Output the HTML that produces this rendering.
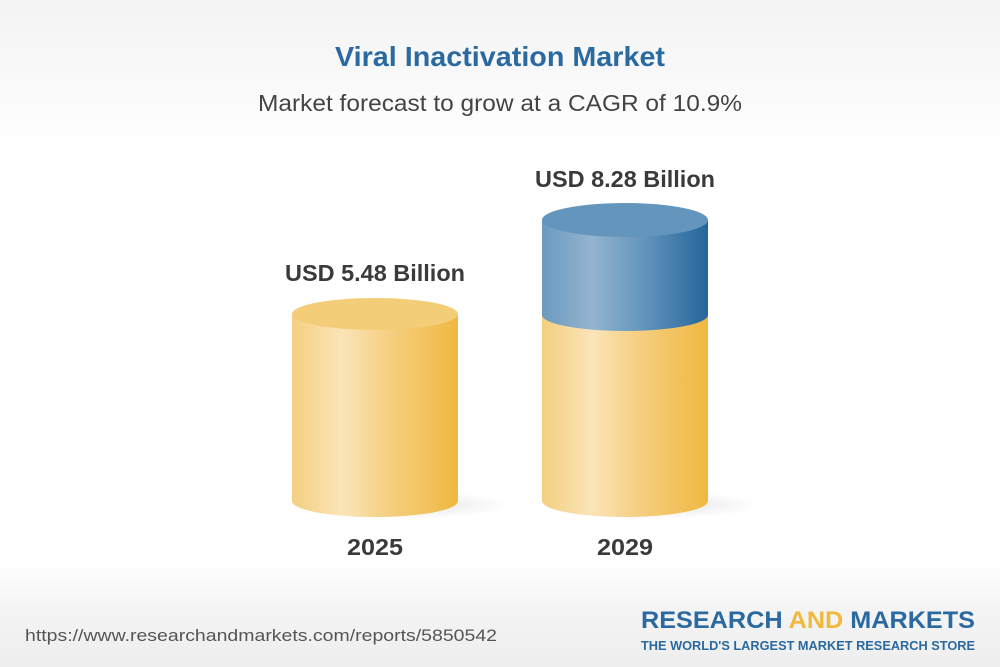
<!DOCTYPE html>
<html><head><meta charset="utf-8"><style>
html,body{margin:0;padding:0}
body{width:1000px;height:667px;position:relative;overflow:hidden;font-family:"Liberation Sans",Arial,sans-serif;background:linear-gradient(#f3f3f3 0px,#fff 150px,#fff 560px,#f4f4f4 610px,#eeeeee 667px)}
</style></head><body>
<svg width="1000" height="667" style="position:absolute;left:0;top:0" font-family="Liberation Sans">
<defs>
<linearGradient id="y" x1="0" x2="1"><stop offset="0" stop-color="#f3cf80"/><stop offset="0.3" stop-color="#fae4b8"/><stop offset="0.6" stop-color="#f5ce7e"/><stop offset="1" stop-color="#efb840"/></linearGradient>
<linearGradient id="b" x1="0" x2="1"><stop offset="0" stop-color="#6b9abf"/><stop offset="0.3" stop-color="#93b4cf"/><stop offset="0.6" stop-color="#6596bd"/><stop offset="1" stop-color="#25669c"/></linearGradient>
<radialGradient id="sh"><stop offset="0" stop-color="#000" stop-opacity="0.12"/><stop offset="1" stop-color="#000" stop-opacity="0"/></radialGradient>
</defs>
<text x="335" y="66" font-size="28" font-weight="bold" fill="#2a6aa0" textLength="330" lengthAdjust="spacingAndGlyphs">Viral Inactivation Market</text>
<text x="258" y="111" font-size="23" fill="#444" textLength="484" lengthAdjust="spacingAndGlyphs">Market forecast to grow at a CAGR of 10.9%</text>
<ellipse cx="400" cy="505" rx="110" ry="14" fill="url(#sh)"/>
<ellipse cx="650" cy="505" rx="110" ry="14" fill="url(#sh)"/>
<path d="M292 314 V501 A83 16 0 0 0 458 501 V314 Z" fill="url(#y)"/>
<ellipse cx="375" cy="314" rx="83" ry="16" fill="#f4cd78"/>
<path d="M542 315 V501 A83 16 0 0 0 708 501 V315 Z" fill="url(#y)"/>
<path d="M542 220 V315 A83 16 0 0 0 708 315 V220 Z" fill="url(#b)"/>
<ellipse cx="625" cy="220" rx="83" ry="17" fill="#6496bd"/>
<text x="285" y="281" font-size="23" font-weight="bold" fill="#3a3a3a" textLength="180" lengthAdjust="spacingAndGlyphs">USD 5.48 Billion</text>
<text x="535" y="187" font-size="23" font-weight="bold" fill="#3a3a3a" textLength="180" lengthAdjust="spacingAndGlyphs">USD 8.28 Billion</text>
<text x="347" y="555" font-size="23" font-weight="bold" fill="#3a3a3a" textLength="56" lengthAdjust="spacingAndGlyphs">2025</text>
<text x="597" y="555" font-size="23" font-weight="bold" fill="#3a3a3a" textLength="56" lengthAdjust="spacingAndGlyphs">2029</text>
<text x="25" y="641" font-size="17" fill="#555" textLength="472" lengthAdjust="spacingAndGlyphs">https://www.researchandmarkets.com/reports/5850542</text>
<text x="641" y="628" font-size="24" font-weight="bold" fill="#2a6aa0" textLength="334" lengthAdjust="spacingAndGlyphs">RESEARCH <tspan fill="#f0b83c">AND</tspan> MARKETS</text>
<text x="641" y="650" font-size="12.5" font-weight="bold" fill="#2a6aa0" textLength="334" lengthAdjust="spacingAndGlyphs">THE WORLD'S LARGEST MARKET RESEARCH STORE</text>
</svg>
</body></html>
